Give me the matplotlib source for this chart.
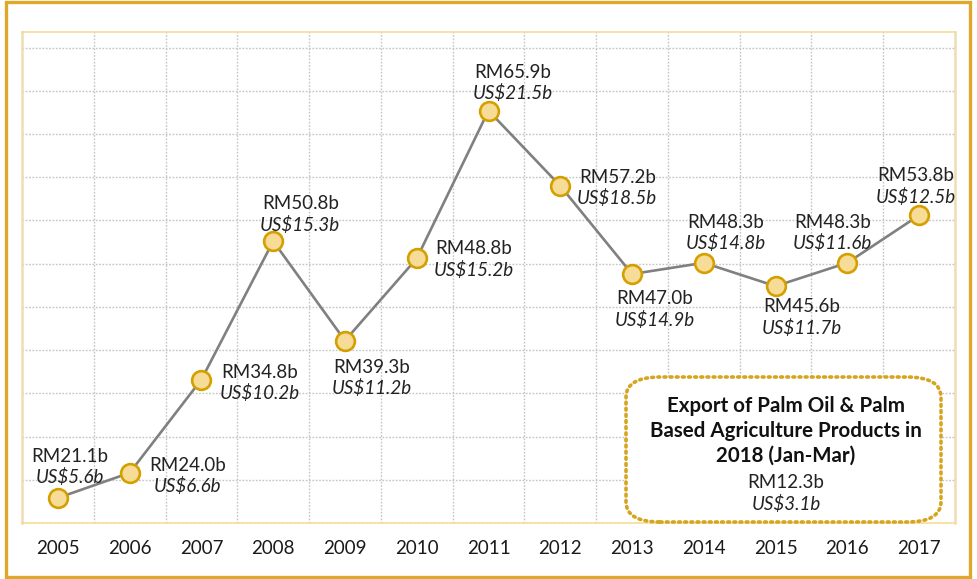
import numpy as np
import matplotlib
matplotlib.use("Agg")
import matplotlib.pyplot as plt
from matplotlib.patches import Rectangle, FancyBboxPatch

plt.rcParams['font.family'] = ['Lato', 'DejaVu Sans']

years = ['2005', '2006', '2007', '2008', '2009', '2010', '2011',
         '2012', '2013', '2014', '2015', '2016', '2017']
rm_values = [21.1, 24.0, 34.8, 50.8, 39.3, 48.8, 65.9,
             57.2, 47.0, 48.3, 45.6, 48.3, 53.8]
usd_values = [5.6, 6.6, 10.2, 15.3, 11.2, 15.2, 21.5,
              18.5, 14.9, 14.8, 11.7, 11.6, 12.5]
box_title = ['Export of Palm Oil & Palm', 'Based Agriculture Products in',
             '2018 (Jan-Mar)']
box_rm = 12.3
box_usd = 3.1

# label placement: (dx, baseline dy of RM line) in screen pixels, y down
label_offsets = [(12, -36), (58, -2), (58, -2), (27, -32), (27, 32), (57, -4),
                 (24, -33), (57, -3), (23, 30), (22, -35), (26, 26), (-15, -35),
                 (-3, -34)]
line_gap = 21.5

W, H = 978, 579
fig = plt.figure(figsize=(W / 100, H / 100), dpi=100)
ax = fig.add_axes([22 / W, 1 - 523 / H, (955 - 22) / W, (523 - 32) / H])

x = np.arange(len(years))
ax.plot(x, rm_values, color='#808080', lw=1.9, zorder=3,
        marker='o', markersize=13.5, markerfacecolor='#F7DC98',
        markeredgecolor='#D4A000', markeredgewidth=1.9)

ax.set_xlim(-0.5, len(years) - 0.5)
ax.set_ylim(18.2, 75.0)
ax.set_xticks(x)
ax.set_xticklabels(years, fontsize=13.5, color='#1a1a1a')
ax.set_xticks(np.arange(0.5, len(years) - 0.5, 1), minor=True)
ax.set_yticks(np.arange(23.2, 75, 5))
ax.tick_params(axis='both', which='both', length=0)
ax.tick_params(axis='x', pad=12)
ax.set_yticklabels([])
ax.grid(which='major', axis='y', color='#C4C4C4', ls=(0, (1.2, 1.2)), lw=1)
ax.grid(which='minor', axis='x', color='#C4C4C4', ls=(0, (1.2, 1.2)), lw=1)
ax.set_axisbelow(True)
for side in ['top', 'bottom']:
    ax.spines[side].set_color('#F5D98C')
    ax.spines[side].set_linestyle((0, (1.2, 1.2)))
    ax.spines[side].set_linewidth(1.2)
for side in ['left', 'right']:
    ax.spines[side].set_color('#EEDDB2')
    ax.spines[side].set_linestyle((0, (2, 1)))
    ax.spines[side].set_linewidth(1.8)

for i, (rm, usd) in enumerate(zip(rm_values, usd_values)):
    dx, dy = label_offsets[i]
    ax.annotate(f'RM{rm:.1f}b', (x[i], rm), xytext=(dx, -dy),
                textcoords='offset pixels', ha='center', va='baseline',
                fontsize=13.5, color='#222222', zorder=5)
    ax.annotate(f'US${usd:.1f}b', (x[i], rm), xytext=(dx, -dy - line_gap),
                textcoords='offset pixels', ha='center', va='baseline',
                fontsize=13.5, style='italic', color='#222222', zorder=5)

# info box
bx0, bx1, by0, by1 = 626, 941, 377, 522
box = FancyBboxPatch((bx0 / W, 1 - by1 / H), (bx1 - bx0) / W, (by1 - by0) / H,
                     boxstyle='round,pad=0,rounding_size=0.035',
                     transform=fig.transFigure, facecolor='white',
                     edgecolor='#D6A520', lw=2.6, ls=(0, (0.5, 1.2)),
                     capstyle='round', zorder=6)
box.set_clip_on(False)
fig.patches.append(box)
cx = 786 / W
for k, line in enumerate(box_title):
    fig.text(cx, 1 - (412 + 25 * k) / H, line, ha='center', va='baseline',
             fontsize=14.8, fontweight='bold', color='#111111', zorder=7)
fig.text(cx, 1 - 488 / H, f'RM{box_rm:.1f}b', ha='center', va='baseline',
         fontsize=13.5, color='#222222', zorder=7)
fig.text(cx, 1 - 510 / H, f'US${box_usd:.1f}b', ha='center', va='baseline',
         fontsize=13.5, style='italic', color='#222222', zorder=7)

# outer gold frame
frame = Rectangle((5.8 / W, 1 - 576.5 / H), (970.5 - 5.8) / W, (576.5 - 2.2) / H,
                  transform=fig.transFigure, fill=False,
                  edgecolor='#DFA82B', lw=2.4)
fig.patches.append(frame)

fig.savefig('out.png', dpi=100)
